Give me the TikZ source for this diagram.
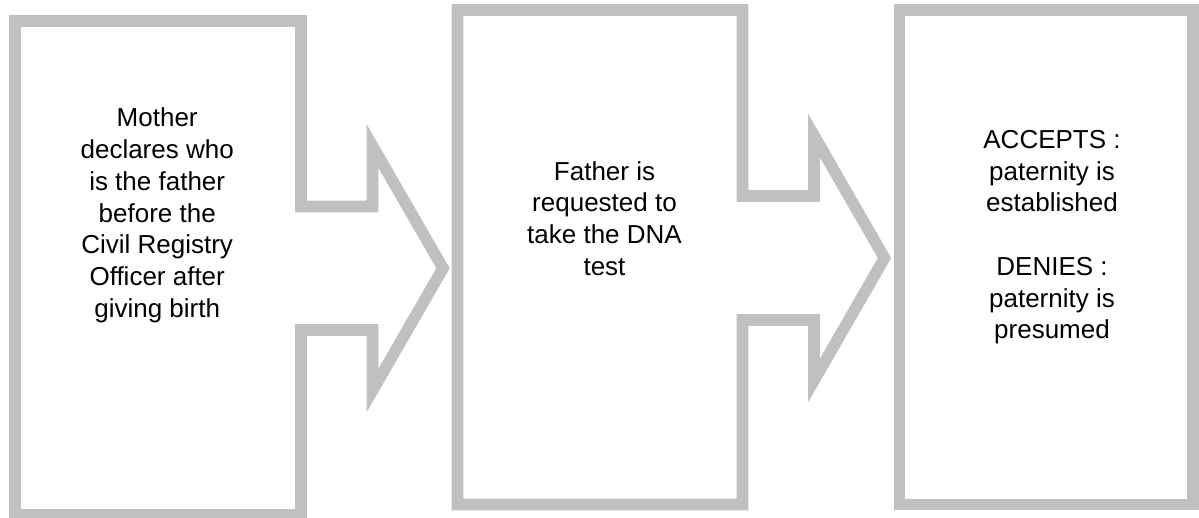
\documentclass[tikz,border=0pt]{standalone}
\usepackage{fontspec}
\setmainfont{Liberation Sans}
\definecolor{framegray}{RGB}{192,192,192}
\begin{document}
\begin{tikzpicture}[x=1pt,y=-1pt,
  frame/.style={draw=framegray,line width=11.6pt,line join=miter,fill=white},
  steptext/.style={anchor=north,inner sep=0pt,align=center,
    font=\fontsize{26}{31.7}\selectfont}]
\useasboundingbox (0,0) rectangle (1199,517);
% first step, with its outgoing arrow
\draw[frame] (15,21) -- (301,21) -- (301,206.5) -- (372.5,206.5) -- (372.5,146)
  -- (443,268.25) -- (372.5,390.5) -- (372.5,330) -- (301,330) -- (301,515)
  -- (15,515) -- cycle;
% second step, with its outgoing arrow
\draw[frame] (457.5,10) -- (742.5,10) -- (742.5,196) -- (814,196) -- (814,135.6)
  -- (884.5,258) -- (814,380.4) -- (814,320) -- (742.5,320) -- (742.5,504.5)
  -- (457.5,504.5) -- cycle;
% outcome
\draw[frame] (899.5,10) rectangle (1193,504.5);
% texts (first baseline 20pt below the node top)
\node[steptext] (mother) at (157.2,106.7) {\rule{0pt}{20pt}Mother\\declares who\\is the father\\before the\\Civil Registry\\Officer after\\giving birth};
\node[steptext] (father) at (604.5,160) {\rule{0pt}{20pt}Father is\\requested to\\take the DNA\\test};
\node[steptext] (result) at (1052,128.3) {\rule{0pt}{20pt}ACCEPTS :\\paternity is\\established\\[31.7pt]DENIES :\\paternity is\\presumed};
\end{tikzpicture}
\end{document}
